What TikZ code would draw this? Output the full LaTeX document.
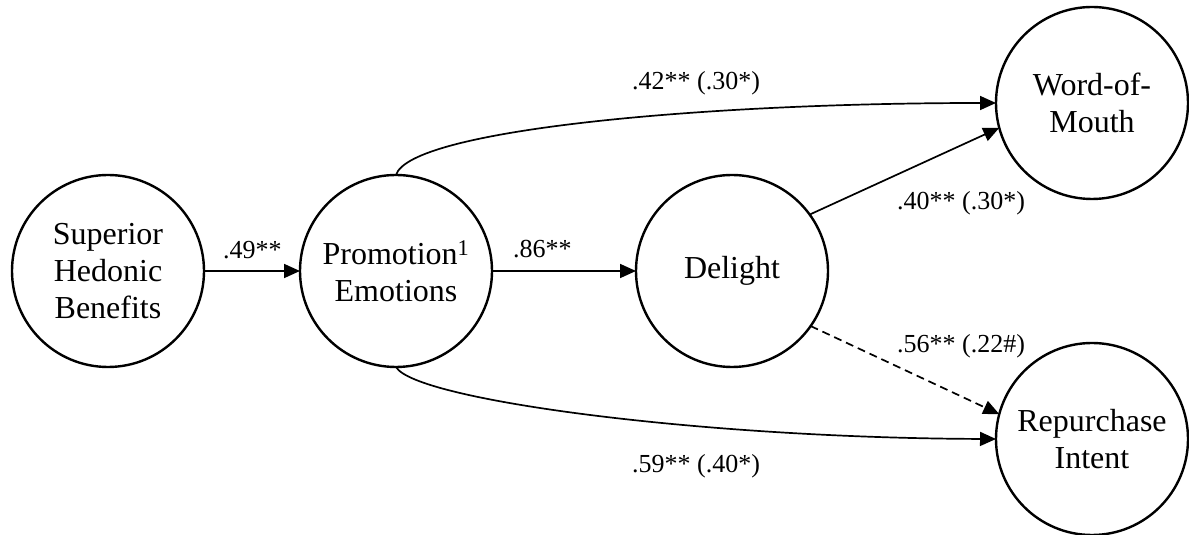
\documentclass[tikz,border=0pt]{standalone}
\usepackage{fontspec}
\setmainfont{Liberation Serif}
\usetikzlibrary{arrows.meta}
\begin{document}
\begin{tikzpicture}[x=1pt,y=1pt,
  latent/.style={circle,draw,line width=2.4pt,minimum size=192pt,inner sep=0pt,outer sep=0pt,align=center,font=\fontsize{32}{37}\selectfont},
  conn/.style={line width=1.7pt,-{Triangle[length=16pt,width=14pt]}},
  dashconn/.style={conn,dash pattern=on 8pt off 5pt},
  lbl/.style={inner sep=0pt,font=\fontsize{26}{30}\selectfont}]
\useasboundingbox (0,0) rectangle (1189,535);
\node[latent] (shb) at (108,264) {Superior\\Hedonic\\Benefits};
\node[latent] (pe) at (396,264) {Promotion\textsuperscript{1}\\Emotions};
\node[latent] (del) at (732,264) {Delight};
\node[latent] (wom) at (1092,432) {Word-of-\\Mouth};
\node[latent] (ri) at (1092,96) {Repurchase\\Intent};

\draw[conn] (shb.east) -- (pe.west);
\draw[conn] (pe.east) -- (del.west);
\draw[conn] (pe.north) .. controls (410,405) and (700,432) .. (wom.west);
\draw[conn] (pe.south) .. controls (415,135) and (700,97) .. (ri.west);
\draw[conn] (del.36) -- (wom.195);
\draw[dashconn] (del.-35) -- (ri.165);

\node[lbl,anchor=base west] (l1) at (223,276) {.49**};
\node[lbl,anchor=base west] (l2) at (513,277) {.86**};
\node[lbl,anchor=base west] (l3) at (632,445) {.42** (.30*)};
\node[lbl,anchor=base west] (l4) at (897,325) {.40** (.30*)};
\node[lbl,anchor=base west] (l5) at (897,182) {.56** (.22\#)};
\node[lbl,anchor=base west] (l6) at (632,62) {.59** (.40*)};
\end{tikzpicture}
\end{document}
